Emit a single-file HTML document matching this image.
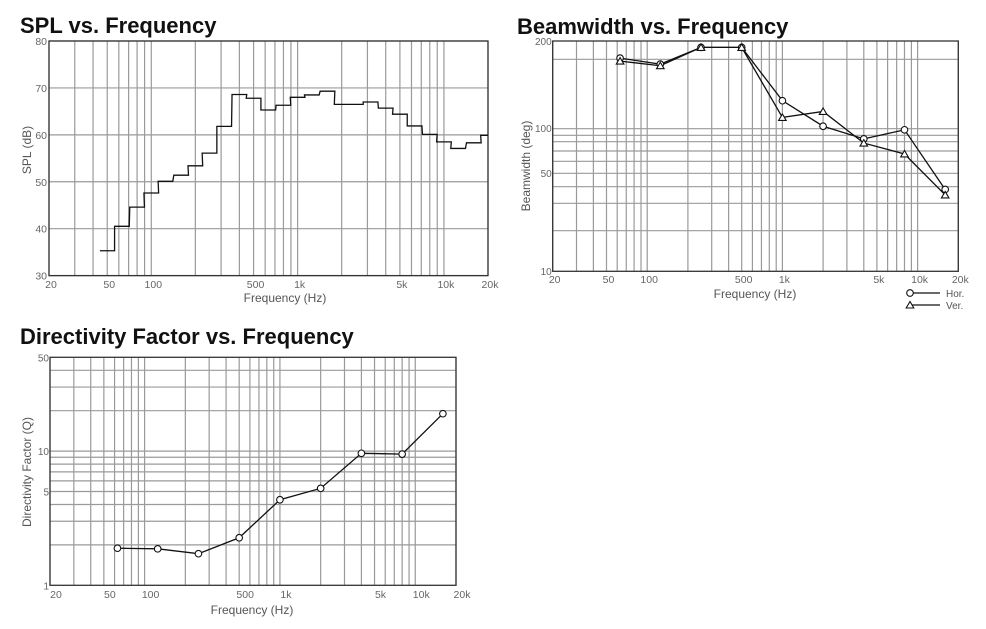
<!DOCTYPE html>
<html><head><meta charset="utf-8"><style>
html,body{margin:0;padding:0;background:#fff;width:986px;height:629px;overflow:hidden}
svg{display:block;font-family:"Liberation Sans",Arial,sans-serif}
.t{font-weight:bold;font-size:22px;fill:#111}
</style></head><body>
<svg id="s" width="986" height="629">
<text class="t" x="20" y="33">SPL vs. Frequency</text>
<text class="t" x="517" y="34">Beamwidth vs. Frequency</text>
<text class="t" x="20" y="344">Directivity Factor vs. Frequency</text>
</svg>
<script>
// SPL data (1/3-octave bands)
const splBands=[50,63,80,100,125,160,200,250,315,400,500,630,800,1000,1250,1600,2000,2500,3150,4000,5000,6300,8000,10000,12500,16000,20000];
const splValues=[35.3,40.5,44.6,47.6,50.1,51.4,53.4,56.1,61.8,68.6,67.8,65.3,66.3,68.0,68.5,69.3,66.5,66.5,67.0,65.7,64.4,61.9,60.1,58.5,57.1,58.3,59.9];
const splYTicks=[30,40,50,60,70,80];
// Beamwidth data
const bwFreqs=[63,125,250,500,1000,2000,4000,8000,16000];
const bwHor=[160,148,184,184,92,66,56,63,29];
const bwVer=[154,145,184,184,74,80,53,46,27];
// Directivity data
const dqFreqs=[63,125,250,500,1000,2000,4000,8000,16000];
const dqValues=[1.89,1.87,1.72,2.26,4.34,5.28,9.63,9.5,19.0];
const dqYTicks=[1,5,10,50];
const xTickVals=[20,50,100,500,1000,5000,10000,20000];
const xTickLabels=["20","50","100","500","1k","5k","10k","20k"];

const NS="http://www.w3.org/2000/svg";
const svg=document.getElementById('s');
function mk(tag,attrs,txt){const e=document.createElementNS(NS,tag);for(const k in attrs)e.setAttribute(k,attrs[k]);if(txt!==undefined)e.textContent=txt;svg.appendChild(e);return e;}
function logX(x0,x1){return f=>x0+(Math.log10(f/20)/3)*(x1-x0);}
const gridFreqs=[20,30,40,50,60,70,80,90,100,200,300,400,500,600,700,800,900,1000,2000,3000,4000,5000,6000,7000,8000,9000,10000,20000];

function vgrid(X,y0,y1,name){gridFreqs.forEach(f=>{const l=mk('line',{x1:X(f),x2:X(f),y1:y0,y2:y1,stroke:'#9a9a9a','stroke-width':1.2});

});}
function xlabels(X,y,name,dx){xTickVals.forEach((f,i)=>{const t=mk('text',{x:X(f)+(dx||0),y:y,'text-anchor':'middle','font-size':10.5,fill:'#666'},xTickLabels[i]);

});}
function frame(x0,y0,x1,y1,name){const r=mk('rect',{x:x0,y:y0,width:x1-x0,height:y1-y0,fill:'none',stroke:'#333','stroke-width':1.3});

}
function title(x,y,txt,rot,name){const t=mk('text',{x:x,y:y,'text-anchor':'middle','font-size':12,fill:'#555',transform:rot?`rotate(-90 ${x} ${y})`:''},txt);

}
function poly(pts,name){const p=mk('polyline',{points:pts.map(q=>q.join(',')).join(' '),fill:'none',stroke:'#111','stroke-width':1.3});

}
function circ(x,y,name){const c=mk('circle',{cx:x,cy:y,r:3.3,fill:'#fff',stroke:'#111','stroke-width':1.1});

}
function tri(x,y,name){const p=mk('polygon',{points:`${x},${y-3.5} ${x-3.8},${y+3} ${x+3.8},${y+3}`,fill:'#fff',stroke:'#111','stroke-width':1.1});

}

// ---- SPL chart ----
(function(){
const x0=49,x1=488,y0=41,y1=275.6;
const X=logX(x0,x1);const Y=v=>y1-(v-30)/50*(y1-y0);
vgrid(X,y0,y1,'spl');
splYTicks.forEach(v=>{const l=mk('line',{x1:x0,x2:x1,y1:Y(v),y2:Y(v),stroke:'#9a9a9a','stroke-width':1.2});


const t=mk('text',{x:x0-2,y:Y(v)+4,'text-anchor':'end','font-size':10.5,fill:'#666'},String(v));

});
frame(x0,y0,x1,y1,'spl');
const pts=[];const r=Math.pow(2,1/6);
splBands.forEach((f,i)=>{let a=X(f/r),b=Math.min(X(f*r),x1);pts.push([a,Y(splValues[i])],[b,Y(splValues[i])]);});
poly(pts,'spl-curve');
xlabels(X,288,'spl',2);
title(285,302,'Frequency (Hz)',false,'spl-x-axis-title');
title(31,150,'SPL (dB)',true,'spl-y-axis-title');
})();

// ---- Beamwidth chart ----
(function(){
const x0=552.7,x1=958.3,y0=41,y1=271.3;
const X=logX(x0,x1);const Y=v=>y1-Math.log10(v/10)/Math.log10(20)*(y1-y0);
vgrid(X,y0,y1,'bw');
[59.3,128.7,135.3,141.7,151,161.3,173.3,186.7,203.3,230.7].forEach(y=>{const l=mk('line',{x1:x0,x2:x1,y1:y,y2:y,stroke:'#9a9a9a','stroke-width':1.2});

});
[['200',45],['100',132],['50',177],['10',275]].forEach(a=>{const t=mk('text',{x:x0-1,y:a[1],'text-anchor':'end','font-size':10,fill:'#666'},a[0]);

});
frame(x0,y0,x1,y1,'bw');
poly(bwFreqs.map((f,i)=>[X(f),Y(bwHor[i])]),'bw-hor-line');
poly(bwFreqs.map((f,i)=>[X(f),Y(bwVer[i])]),'bw-ver-line');
bwFreqs.forEach((f,i)=>{circ(X(f),Y(bwHor[i]),'bw-hor-point');tri(X(f),Y(bwVer[i]),'bw-ver-point');});
xlabels(X,283,'bw',2);
title(755,298,'Frequency (Hz)',false,'bw-x-axis-title');
title(530,166,'Beamwidth (deg)',true,'bw-y-axis-title');
const l1=mk('line',{x1:910,x2:940,y1:293,y2:293,stroke:'#111','stroke-width':1.2});


circ(910,293,'legend-hor-marker');
const t1=mk('text',{x:946,y:297,'font-size':10,fill:'#555'},'Hor.');


const l2=mk('line',{x1:910,x2:940,y1:305,y2:305,stroke:'#111','stroke-width':1.2});


tri(910,305,'legend-ver-marker');
const t2=mk('text',{x:946,y:309,'font-size':10,fill:'#555'},'Ver.');


})();

// ---- Directivity chart ----
(function(){
const x0=50,x1=456,y0=357.3,y1=585.3;
const X=logX(x0,x1);const Y=v=>y1-Math.log10(v)/Math.log10(50)*(y1-y0);
vgrid(X,y0,y1,'dq');
[2,3,4,5,6,7,8,9,10,20,30,40].forEach(v=>{const l=mk('line',{x1:x0,x2:x1,y1:Y(v),y2:Y(v),stroke:'#9a9a9a','stroke-width':1.2});

});
dqYTicks.forEach(v=>{const t=mk('text',{x:x0-1,y:Y(v)+4,'text-anchor':'end','font-size':10,fill:'#666'},String(v));

});
frame(x0,y0,x1,y1,'dq');
poly(dqFreqs.map((f,i)=>[X(f),Y(dqValues[i])]),'dq-line');
dqFreqs.forEach((f,i)=>circ(X(f),Y(dqValues[i]),'dq-point'));
xlabels(X,598,'dq',6);
title(252,614,'Frequency (Hz)',false,'dq-x-axis-title');
title(31,472,'Directivity Factor (Q)',true,'dq-y-axis-title');
})();
</script>
</body></html>
